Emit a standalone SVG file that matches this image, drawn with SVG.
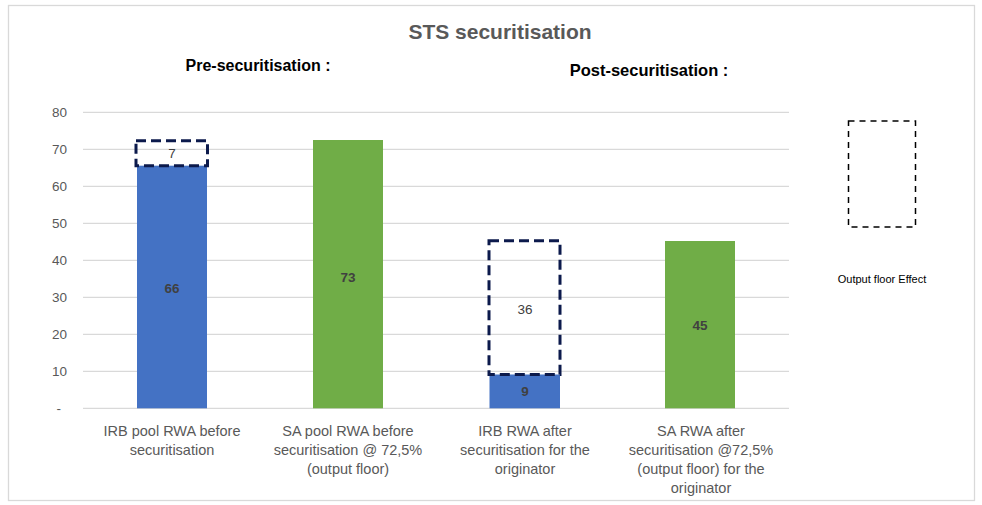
<svg xmlns="http://www.w3.org/2000/svg" width="982" height="505" viewBox="0 0 982 505">
<style>
.t{font-family:"Liberation Sans",Arial,sans-serif;}
.grid{stroke:#d9d9d9;stroke-width:1.3;}
.ax{font-family:"Liberation Sans",Arial,sans-serif;font-size:13.5px;fill:#595959;text-anchor:end;}
.cat{font-family:"Liberation Sans",Arial,sans-serif;font-size:14.5px;fill:#595959;text-anchor:middle;}
.val{font-family:"Liberation Sans",Arial,sans-serif;font-size:13.5px;fill:#404040;text-anchor:middle;}
.bold{font-weight:bold;}
.dash{fill:none;stroke:#0c1a4c;stroke-width:3;stroke-dasharray:10 5;}
.blue{fill:#4472C4;}
.green{fill:#70AD47;}
</style>
<rect x="0" y="0" width="982" height="505" fill="#ffffff"/>
<rect x="8.5" y="5.5" width="966" height="495" fill="none" stroke="#d9d9d9" stroke-width="1.3"/>
<text class="t" x="500" y="39" font-size="21" font-weight="bold" fill="#595959" text-anchor="middle">STS securitisation</text>
<text class="t" x="258" y="71" font-size="16" font-weight="bold" fill="#000" text-anchor="middle">Pre-securitisation :</text>
<text class="t" x="649" y="76" font-size="16.5" font-weight="bold" fill="#000" text-anchor="middle">Post-securitisation :</text>
<g id="grid">
<line class="grid" x1="83" y1="112.3" x2="789" y2="112.3"/>
<line class="grid" x1="83" y1="149.3" x2="789" y2="149.3"/>
<line class="grid" x1="83" y1="186.3" x2="789" y2="186.3"/>
<line class="grid" x1="83" y1="223.3" x2="789" y2="223.3"/>
<line class="grid" x1="83" y1="260.3" x2="789" y2="260.3"/>
<line class="grid" x1="83" y1="297.3" x2="789" y2="297.3"/>
<line class="grid" x1="83" y1="334.3" x2="789" y2="334.3"/>
<line class="grid" x1="83" y1="371.3" x2="789" y2="371.3"/>
<line class="grid" x1="83" y1="408.3" x2="789" y2="408.3"/>
</g>
<g id="axis">
<text class="ax" x="67" y="117">80</text>
<text class="ax" x="67" y="154">70</text>
<text class="ax" x="67" y="191">60</text>
<text class="ax" x="67" y="228">50</text>
<text class="ax" x="67" y="265">40</text>
<text class="ax" x="67" y="302">30</text>
<text class="ax" x="67" y="339">20</text>
<text class="ax" x="67" y="376">10</text>
<text class="ax" x="61" y="413">-</text>
</g>
<g id="bar1">
<rect class="blue" x="137" y="165.7" width="70" height="242.6"/>
<rect class="dash" x="136" y="140.7" width="71.5" height="25"/>
<text class="val bold" x="172" y="293">66</text>
<text class="val" x="172" y="158">7</text>
</g>
<g id="bar2">
<rect class="green" x="313" y="140" width="70" height="268.3"/>
<text class="val bold" x="348" y="282">73</text>
</g>
<g id="bar3">
<rect class="blue" x="489.5" y="374.5" width="70.5" height="33.8"/>
<rect class="dash" x="489" y="240.7" width="71" height="133.8"/>
<text class="val bold" x="525" y="396">9</text>
<text class="val" x="525" y="314">36</text>
</g>
<g id="bar4">
<rect class="green" x="665" y="241" width="70" height="167.3"/>
<text class="val bold" x="700" y="330">45</text>
</g>
<g id="labels">
<text class="cat" x="172" y="436">IRB pool RWA before</text>
<text class="cat" x="172" y="455">securitisation</text>
<text class="cat" x="348" y="436">SA pool RWA before</text>
<text class="cat" x="348" y="455">securitisation @ 72,5%</text>
<text class="cat" x="348" y="474">(output floor)</text>
<text class="cat" x="525" y="436">IRB RWA after</text>
<text class="cat" x="525" y="455">securitisation for the</text>
<text class="cat" x="525" y="474">originator</text>
<text class="cat" x="701" y="436">SA RWA after</text>
<text class="cat" x="701" y="455">securitisation @72,5%</text>
<text class="cat" x="701" y="474">(output floor) for the</text>
<text class="cat" x="701" y="493">originator</text>
</g>
<g id="legend">
<rect x="848.5" y="121" width="67" height="106" fill="none" stroke="#000" stroke-width="1.5" stroke-dasharray="6 5"/>
<text class="t" x="882" y="283" font-size="11" fill="#000" text-anchor="middle">Output floor Effect</text>
</g>
</svg>
